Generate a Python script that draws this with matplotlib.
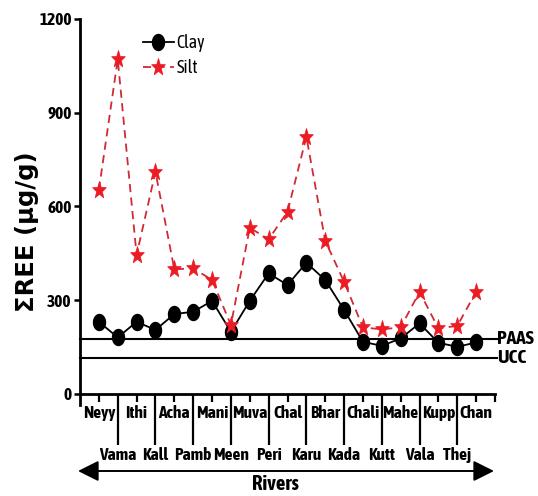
import numpy as np
import matplotlib
matplotlib.use("Agg")
import matplotlib.pyplot as plt
from matplotlib.path import Path
from matplotlib.patches import FancyArrowPatch

rivers = ["Neyy", "Vama", "Ithi", "Kall", "Acha", "Pamb", "Mani", "Meen", "Muva", "Peri",
          "Chal", "Karu", "Bhar", "Kada", "Chali", "Kutt", "Mahe", "Vala", "Kupp", "Thej", "Chan"]
clay = [231, 181, 231, 205, 256, 263, 298, 199, 298, 386,
        349, 420, 365, 269, 167, 154, 178, 226, 164, 151, 165]
silt = [653, 1071, 445, 711, 399, 402, 365, 221, 532, 495,
        583, 823, 490, 359, 213, 207, 213, 327, 210, 218, 327]
paas = 177
ucc = 114
yticks = [0, 300, 600, 900, 1200]

NARROW = ["Asap Condensed", "Liberation Sans", "DejaVu Sans"]

W, H = 538, 496
fig = plt.figure(figsize=(W / 100, H / 100), dpi=100)
ax = fig.add_axes([80 / W, 1 - 394 / H, (495 - 80) / W, (394 - 19) / H])

# custom vertically stretched markers
t = np.linspace(0, 2 * np.pi, 60)
ell = Path(np.column_stack([0.75 * np.cos(t), np.sin(t)]), closed=True)
st = Path.unit_regular_star(5, 0.42)
sv = st.vertices.copy()
sv[:, 1] *= 1.25
star = Path(sv, st.codes)

x = np.arange(len(rivers))
red = "#EC1C24"
ax.plot(x, clay, color="black", lw=1.3, marker=ell, ms=11.5,
        markerfacecolor="black", markeredgecolor="black", label="Clay", zorder=3)
ax.plot(x, silt, color="#D02A36", lw=1.3, ls=(0, (4.5, 3)), marker=star, ms=13,
        markerfacecolor=red, markeredgecolor=red, markeredgewidth=0.5, label="Silt", zorder=4)

ax.axhline(paas, color="black", lw=1.5, xmin=0, xmax=1.005, clip_on=False, zorder=2)
ax.axhline(ucc, color="black", lw=1.5, xmin=0, xmax=1.005, clip_on=False, zorder=2)
ax.text(21.1, paas, "PAAS", fontsize=14, fontweight="bold", family=NARROW,
        ha="left", va="center")
ax.text(21.1, ucc, "UCC", fontsize=14, fontweight="bold", family=NARROW,
        ha="left", va="center")

ax.set_xlim(-1, 21)
ax.set_ylim(0, 1200)
ax.set_yticks(yticks)
ax.set_yticklabels([str(v) for v in yticks], fontsize=12.5, fontweight="bold", family=NARROW)

major = list(range(0, 21, 2)) + [21]
ax.set_xticks(major)
ax.set_xticklabels([rivers[i] for i in range(0, 21, 2)] + [""], fontsize=12.5,
                   fontweight="bold", family=NARROW)
minor = list(range(1, 21, 2))
ax.set_xticks(minor, minor=True)
ax.set_xticklabels([rivers[i] for i in minor], minor=True, fontsize=12.5,
                   fontweight="bold", family=NARROW)

ax.tick_params(axis="x", which="major", length=6, width=1.6, pad=2, direction="out")
ax.tick_params(axis="x", which="minor", length=37, width=1.6, pad=1.0, direction="out")
ax.tick_params(axis="y", which="major", length=4, width=1.8, pad=2, direction="out")

for s in ["top", "right"]:
    ax.spines[s].set_visible(False)
for s in ["left", "bottom"]:
    ax.spines[s].set_linewidth(2.0)
ax.spines["left"].set_bounds(-36, 1200)

leg = ax.legend(loc="upper left", bbox_to_anchor=(143 / W, 1 - 34 / H),
                bbox_transform=fig.transFigure, frameon=False, borderpad=0,
                borderaxespad=0, handlelength=1.7, handletextpad=0.15,
                labelspacing=0.4, prop={"family": NARROW, "size": 13})

fig.text(27 / W, 1 - 232 / H, "\u03a3REE (\u03bcg/g)", rotation=90, ha="center",
         va="center", fontsize=17.5, fontweight="bold", family="DejaVu Sans")
fig.text(275 / W, 1 - 484 / H, "Rivers", ha="center", va="center", fontsize=15,
         fontweight="bold", family=NARROW)

arr = FancyArrowPatch((78 / W, 1 - 471 / H), (494 / W, 1 - 471 / H),
                      transform=fig.transFigure, arrowstyle="<|-|>,head_length=0.9,head_width=0.45",
                      mutation_scale=14, color="black", lw=1.4, shrinkA=0, shrinkB=0)
fig.patches.append(arr)

fig.savefig("out.png", dpi=100, facecolor="white")
